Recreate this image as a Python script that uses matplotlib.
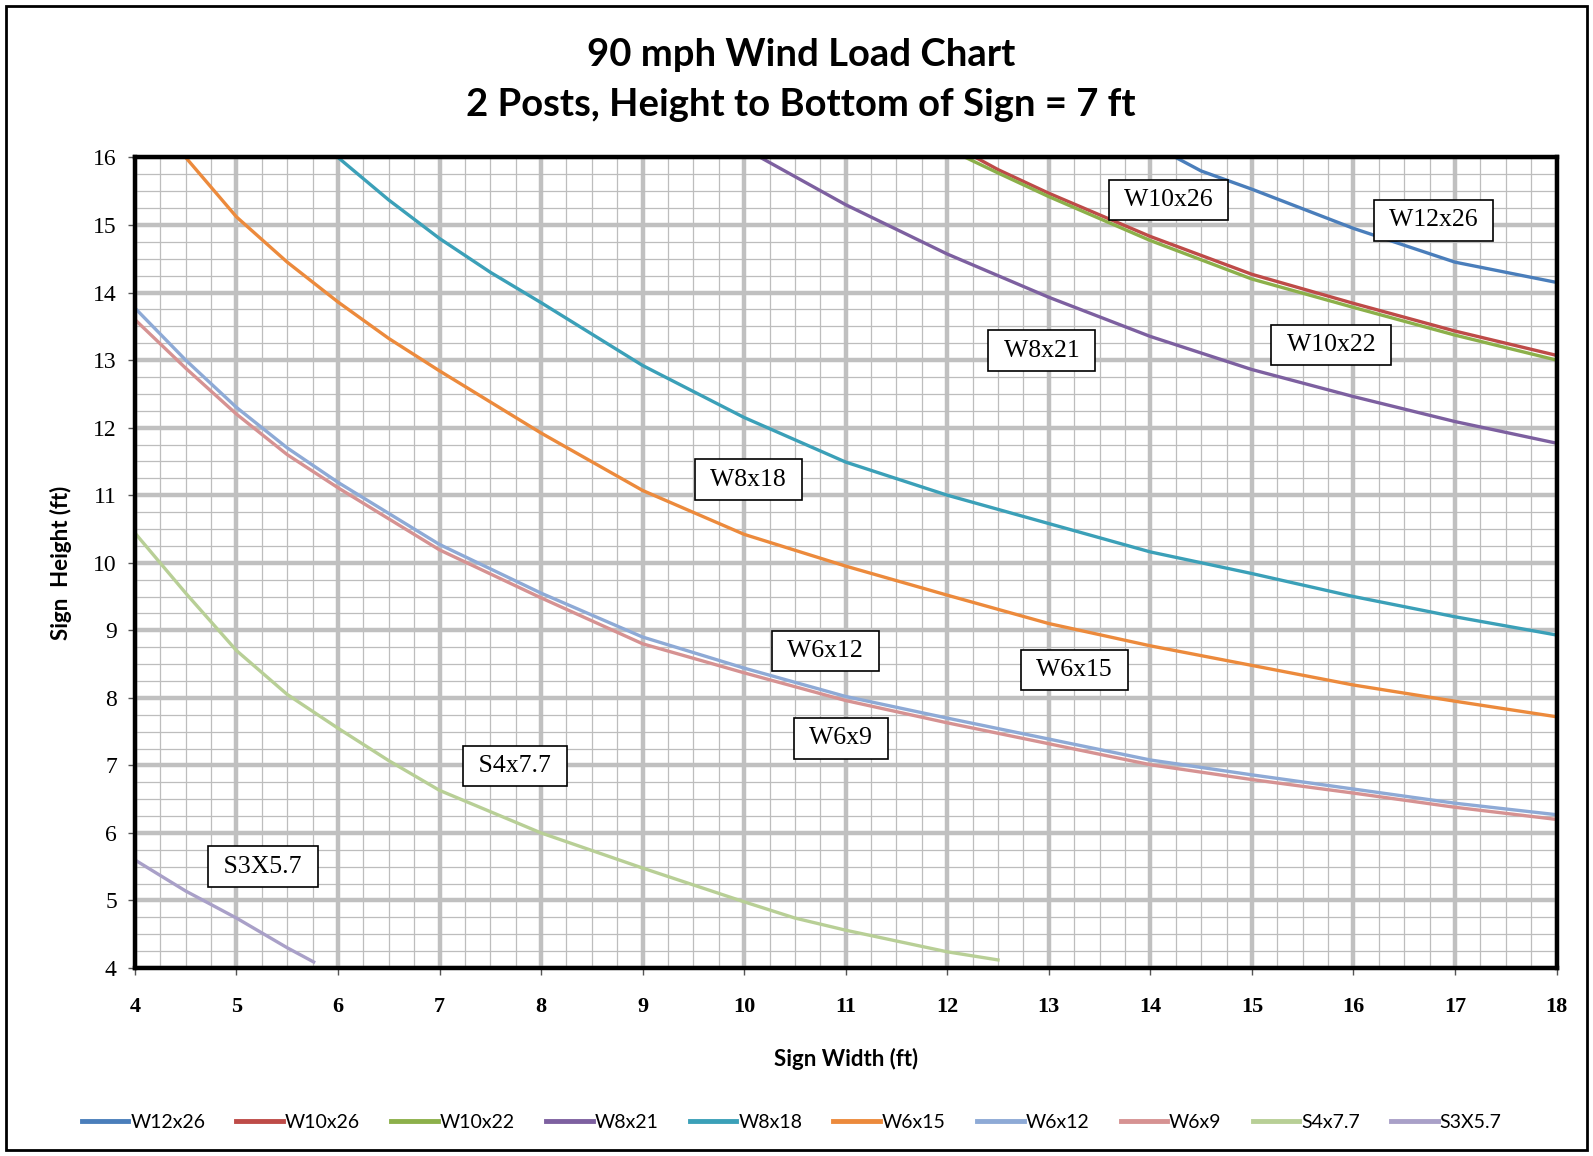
import matplotlib
matplotlib.use("Agg")
import matplotlib.pyplot as plt
from matplotlib.patches import Rectangle
from matplotlib.ticker import MultipleLocator

# values (sign width ft -> sign height ft)
w12x26_x = [14.25, 14.5, 15, 16, 17, 18]
w12x26_y = [16.0, 15.8, 15.53, 14.95, 14.45, 14.15]

w10x26_x = [12.28, 12.5, 13, 14, 15, 16, 17, 18]
w10x26_y = [16.0, 15.82, 15.47, 14.83, 14.27, 13.84, 13.43, 13.07]

w10x22_x = [12.18, 12.5, 13, 14, 15, 16, 17, 18]
w10x22_y = [16.0, 15.77, 15.42, 14.77, 14.2, 13.78, 13.37, 13.0]

w8x21_x = [10.16, 11, 12, 13, 14, 15, 16, 17, 18]
w8x21_y = [16.0, 15.3, 14.57, 13.93, 13.35, 12.86, 12.46, 12.09, 11.77]

w8x18_x = [6, 6.5, 7, 7.5, 8, 9, 10, 11, 12, 13, 14, 15, 16, 17, 18]
w8x18_y = [16.0, 15.37, 14.8, 14.3, 13.85, 12.92, 12.15, 11.49, 11.0, 10.58, 10.16, 9.84, 9.5, 9.2, 8.93]

w6x15_x = [4.5, 5, 5.5, 6, 6.5, 7, 8, 9, 10, 11, 12, 13, 14, 15, 16, 17, 18]
w6x15_y = [16.0, 15.12, 14.45, 13.86, 13.32, 12.84, 11.92, 11.07, 10.42, 9.95, 9.52, 9.1, 8.77, 8.48, 8.19, 7.95, 7.72]

w6x12_x = [4, 4.5, 5, 5.5, 6, 7, 8, 9, 10, 11, 12, 13, 14, 15, 16, 17, 18]
w6x12_y = [13.77, 13.0, 12.3, 11.7, 11.19, 10.27, 9.55, 8.9, 8.44, 8.02, 7.7, 7.39, 7.08, 6.86, 6.65, 6.44, 6.27]

w6x9_x = [4, 4.5, 5, 5.5, 6, 7, 8, 9, 10, 11, 12, 13, 14, 15, 16, 17, 18]
w6x9_y = [13.6, 12.88, 12.2, 11.6, 11.11, 10.19, 9.48, 8.8, 8.37, 7.96, 7.63, 7.32, 7.01, 6.79, 6.59, 6.38, 6.2]

s4x77_x = [4, 4.5, 5, 5.5, 6, 6.5, 7, 8, 9, 10, 10.5, 11, 12, 12.5]
s4x77_y = [10.44, 9.55, 8.7, 8.05, 7.55, 7.07, 6.63, 6.0, 5.48, 4.98, 4.74, 4.56, 4.24, 4.12]

s3x57_x = [4, 4.5, 5, 5.5, 5.76]
s3x57_y = [5.6, 5.14, 4.74, 4.3, 4.09]

series_names = ["W12x26", "W10x26", "W10x22", "W8x21", "W8x18",
                "W6x15", "W6x12", "W6x9", "S4x7.7", "S3X5.7"]
series_x = [w12x26_x, w10x26_x, w10x22_x, w8x21_x, w8x18_x,
            w6x15_x, w6x12_x, w6x9_x, s4x77_x, s3x57_x]
series_y = [w12x26_y, w10x26_y, w10x22_y, w8x21_y, w8x18_y,
            w6x15_y, w6x12_y, w6x9_y, s4x77_y, s3x57_y]
colors = ["#4a7ebb", "#be4b48", "#8cb04a", "#7d60a0", "#3ba0b8",
          "#ec8a3c", "#8eaad6", "#d69292", "#b8cf96", "#a9a0c8"]

# in-chart labels (data coords of box centres)
label_text = ["W10x26", "W12x26", "W8x21", "W10x22", "W8x18",
              "W6x12", "W6x15", "W6x9", "S4x7.7", "S3X5.7"]
label_x = [14.18, 16.79, 12.93, 15.78, 10.04, 10.8, 13.25, 10.95, 7.74, 5.26]
label_y = [15.37, 15.07, 13.14, 13.22, 11.23, 8.69, 8.41, 7.40, 6.99, 5.50]


def main():
    fig = plt.figure(figsize=(15.93, 11.56), dpi=100)
    ax = fig.add_axes([0.0847, 0.1626, 0.9771 - 0.0847, 0.8638 - 0.1626])

    for x, y, c, name in zip(series_x, series_y, colors, series_names):
        ax.plot(x, y, color=c, lw=2.4, label=name, zorder=3, solid_joinstyle='round')

    ax.set_xlim(4, 18)
    ax.set_ylim(4, 16)
    ax.xaxis.set_major_locator(MultipleLocator(1))
    ax.yaxis.set_major_locator(MultipleLocator(1))
    ax.xaxis.set_minor_locator(MultipleLocator(0.25))
    ax.yaxis.set_minor_locator(MultipleLocator(0.25))
    ax.grid(which='major', color='#c0c0c0', lw=3.2, zorder=1)
    ax.grid(which='minor', color='#bdbdbd', lw=0.9, zorder=0)
    ax.set_axisbelow(True)
    ax.tick_params(which='minor', length=0)
    ax.tick_params(which='major', direction='out', length=5, width=1, color='#555555', pad=8)

    for sp in ax.spines.values():
        sp.set_linewidth(3.2)
        sp.set_color('black')
        sp.set_zorder(5)

    for lab in ax.get_yticklabels():
        lab.set_fontfamily('Liberation Serif')
        lab.set_fontsize(17)
    for lab in ax.get_xticklabels():
        lab.set_fontfamily('Liberation Serif')
        lab.set_fontsize(16)
        lab.set_fontweight('bold')
    ax.tick_params(axis='x', pad=16)

    ax.set_xlabel("Sign Width (ft)", fontfamily='Lato', fontweight='bold', fontsize=16, labelpad=22)
    ax.set_ylabel("Sign  Height (ft)", fontfamily='Lato', fontweight='bold', fontsize=16, labelpad=15)

    for t, x, y in zip(label_text, label_x, label_y):
        ax.text(x, y, " " + t + " ", ha='center', va='center', fontfamily='Liberation Serif',
                fontsize=18.5, zorder=6,
                bbox=dict(boxstyle='square,pad=0.36', fc='white', ec='black', lw=1.2))

    fig.text(0.503, 0.952, "90 mph Wind Load Chart", ha='center', va='center',
             fontfamily='Lato', fontweight='bold', fontsize=27.5)
    fig.text(0.503, 0.909, "2 Posts, Height to Bottom of Sign = 7 ft", ha='center', va='center',
             fontfamily='Lato', fontweight='bold', fontsize=27.5)

    leg = fig.legend(loc='center', bbox_to_anchor=(0.497, 0.029), ncol=10, frameon=False,
                     handlelength=2.4, handletextpad=0.1, columnspacing=1.6,
                     prop={'family': 'Lato', 'size': 14})
    for h in leg.get_lines():
        h.set_linewidth(3.5)

    fig.patches.append(Rectangle((0.004, 0.005), 0.992, 0.99, transform=fig.transFigure,
                                 fill=False, ec='black', lw=2))

    fig.savefig("out.png", dpi=100, facecolor='white')
    plt.close(fig)


if __name__ == "__main__":
    main()
